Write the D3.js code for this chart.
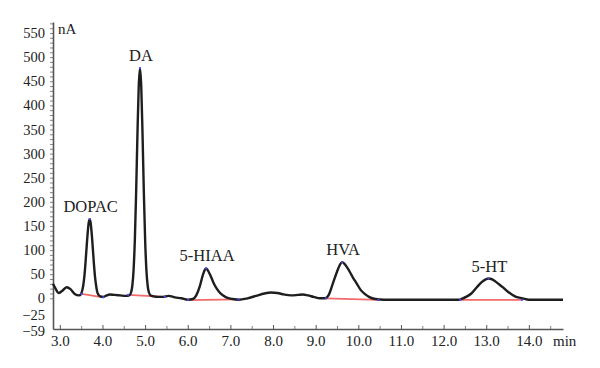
<!DOCTYPE html>
<html>
<head>
<meta charset="utf-8">
<script src="https://cdn.jsdelivr.net/npm/d3@7"></script>
<style>
  html, body { margin: 0; padding: 0; background: #fff; }
  svg { display: block; }
  text { font-family: "Liberation Serif", "DejaVu Serif", serif; fill: #222; }
</style>
</head>
<body>
<svg id="chart" width="600" height="368"></svg>
<script>
// ---- data ----
const times = [
  2.84, 2.90, 2.97, 3.05, 3.16, 3.25, 3.35, 3.45,
  3.50, 3.525, 3.55, 3.575, 3.60, 3.625, 3.65, 3.675, 3.70, 3.725, 3.75, 3.775, 3.80, 3.825, 3.85, 3.875, 3.90, 3.95,
  4.02, 4.10, 4.17, 4.28, 4.41, 4.55,
  4.63, 4.67, 4.70, 4.73, 4.76, 4.79, 4.82, 4.85, 4.88, 4.91, 4.94, 4.97, 5.00, 5.03, 5.06, 5.09, 5.13, 5.20,
  5.30, 5.42, 5.55, 5.70, 5.85, 6.00,
  6.12, 6.20, 6.28, 6.35, 6.40, 6.43, 6.47, 6.53, 6.60, 6.68, 6.78, 6.90, 7.05, 7.20,
  7.40, 7.60, 7.80, 7.95, 8.10, 8.25, 8.42, 8.58, 8.70, 8.82, 8.95, 9.10,
  9.22, 9.30, 9.40, 9.50, 9.56, 9.62, 9.68, 9.78, 9.88, 9.96, 10.05, 10.15, 10.25, 10.40,
  10.60, 11.00, 11.50, 12.00, 12.35,
  12.45, 12.55, 12.65, 12.78, 12.90, 13.00, 13.05, 13.12, 13.20, 13.30, 13.40, 13.50, 13.60, 13.70, 13.85,
  14.00, 14.40, 14.80
];
const signal = [
  30, 20, 11, 15, 23, 19, 9, 6,
  9, 16, 27, 45, 71, 102, 132, 155, 164, 155, 132, 102, 71, 45, 27, 14, 8, 4,
  3, 6, 8, 7, 6, 5,
  6, 12, 26, 59, 123, 221, 339, 438, 477, 438, 339, 221, 123, 59, 26, 12, 6, 4,
  3, 3, 5, 2, 0, -2,
  -1, 6, 24, 47, 59, 62, 58, 48, 33, 20, 9, 2, -1, -2,
  0, 5, 10, 12, 11, 8, 6, 7, 8, 6, 3, 0,
  0, 6, 30, 55, 68, 75, 71, 58, 42, 31, 18, 9, 3, -1,
  -2, -2, -2, -2, -2,
  0, 4, 10, 23, 34, 40, 41, 40, 36, 29, 22, 14, 8, 3, 0,
  -2, -2, -2
];

const peakNames  = ["DOPAC", "DA", "5-HIAA", "HVA", "5-HT"];
const peakTimes  = [3.70, 4.88, 6.43, 9.62, 13.05];
const peakValues = [164, 477, 62, 75, 41];

// integration baselines (start/end of each peak)
const baseStartT = [3.51, 4.60, 6.01, 9.24, 12.39];
const baseStartV = [9, 7, -2.5, 0, -2.3];
const baseEndT   = [4.02, 5.46, 7.19, 10.47, 13.84];
const baseEndV   = [2, 3, -1.5, -2.3, -2.3];

const xTicks = [3, 4, 5, 6, 7, 8, 9, 10, 11, 12, 13, 14];
const yTicks = [550, 500, 450, 400, 350, 300, 250, 200, 150, 100, 50, 0, -25, -59];

// ---- drawing ----
const svg = d3.select("#chart");
const mLeft = 53, mRight = 563, mTop = 22, mBottom = 329;

const x = d3.scaleLinear().domain([2.84, 14.8]).range([mLeft, mRight]);
const y = d3.scaleLinear()
  .domain([-59, -25, 0, 572.8])
  .range([mBottom, 316.5, 298.3, mTop]);

const minus = s => String(s).replace("-", "\u2212");
const serif = '"Liberation Serif", "DejaVu Serif", serif';

// y axis minor ticks
svg.append("g")
  .attr("transform", `translate(${mLeft},0)`)
  .call(d3.axisLeft(y).tickValues(d3.range(0, 571, 10)).tickFormat("").tickSize(3).tickSizeOuter(0))
  .call(g => g.select(".domain").remove())
  .call(g => g.selectAll("line").attr("stroke", "#666").attr("stroke-width", 0.8));

// y axis
svg.append("g")
  .attr("transform", `translate(${mLeft},0)`)
  .call(d3.axisLeft(y).tickValues(yTicks).tickFormat(minus).tickSize(0).tickSizeOuter(0).tickPadding(8))
  .call(g => g.select(".domain").attr("stroke", "#555").attr("stroke-width", 1.6))
  .call(g => g.selectAll("text").attr("font-size", 14.5).attr("fill", "#222").style("font-family", serif))
  .call(g => g.selectAll(".tick").filter(d => d < 0).select("text")
        .attr("dy", d => d === -59 ? "0.45em" : "0.22em"));

// x axis minor ticks
svg.append("g")
  .attr("transform", `translate(0,${mBottom})`)
  .call(d3.axisBottom(x).tickValues(d3.range(3.5, 14.6, 1)).tickFormat("").tickSize(-3).tickSizeOuter(0))
  .call(g => g.select(".domain").remove())
  .call(g => g.selectAll("line").attr("stroke", "#666").attr("stroke-width", 0.8));

// x axis
svg.append("g")
  .attr("transform", `translate(0,${mBottom})`)
  .call(d3.axisBottom(x).tickValues(xTicks).tickFormat(d3.format(".1f")).tickSize(-4).tickSizeOuter(0).tickPadding(6))
  .call(g => g.select(".domain").attr("stroke", "#555").attr("stroke-width", 1.6))
  .call(g => g.selectAll("line").attr("stroke", "#555"))
  .call(g => g.selectAll("text").attr("font-size", 15).attr("fill", "#222").style("font-family", serif));

// axis unit labels
svg.append("text").attr("x", mLeft + 5).attr("y", 34).attr("font-size", 15).text("nA");
svg.append("text").attr("x", mRight - 10).attr("y", 346).attr("font-size", 15).text("min");

// baselines (red)
svg.append("g").selectAll("line")
  .data(peakNames.map((d, i) => i))
  .join("line")
  .attr("x1", i => x(baseStartT[i]))
  .attr("y1", i => y(baseStartV[i]))
  .attr("x2", i => x(baseEndT[i]))
  .attr("y2", i => y(baseEndV[i]))
  .attr("stroke", "#f26a6a")
  .attr("stroke-width", 1.8);

// trace
const pts = times.map((t, i) => [t, signal[i]]);
svg.append("path")
  .datum(pts)
  .attr("fill", "none")
  .attr("stroke", "#1e1e1e")
  .attr("stroke-width", 2.4)
  .attr("stroke-linejoin", "round")
  .attr("d", d3.line().x(d => x(d[0])).y(d => y(d[1])).curve(d3.curveMonotoneX));

// small blue markers at baseline ends and apexes
const markers = [];
peakNames.forEach((n, i) => {
  markers.push([baseStartT[i], baseStartV[i]], [baseEndT[i], baseEndV[i]], [peakTimes[i], peakValues[i]]);
});
svg.append("g").selectAll("circle")
  .data(markers)
  .join("circle")
  .attr("cx", d => x(d[0]))
  .attr("cy", d => y(d[1]))
  .attr("r", 1.1)
  .attr("fill", "#4a4aff");

// peak labels
svg.append("g").selectAll("text")
  .data(peakNames.map((d, i) => i))
  .join("text")
  .attr("x", i => x(peakTimes[i]) + 1)
  .attr("y", i => y(peakValues[i]) - 7)
  .attr("text-anchor", "middle")
  .attr("font-size", 16.5)
  .text(i => peakNames[i]);
</script>
</body>
</html>
